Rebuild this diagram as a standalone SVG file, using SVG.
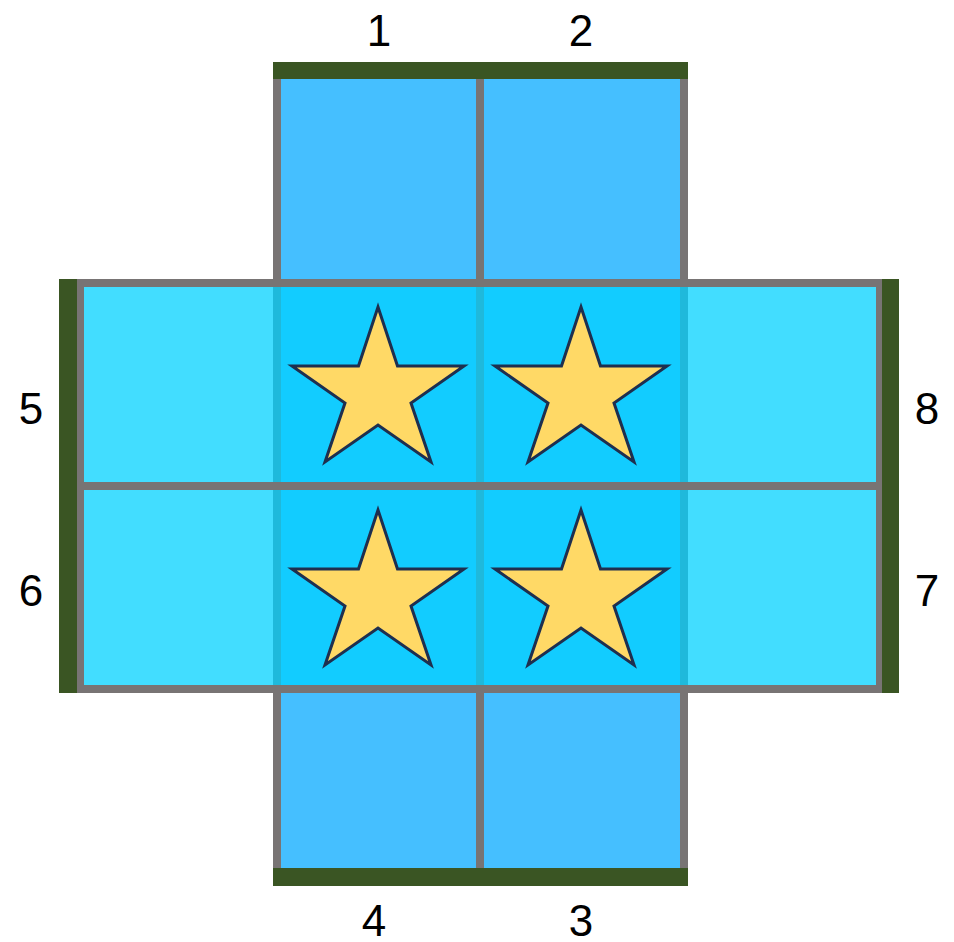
<svg xmlns="http://www.w3.org/2000/svg" width="954" height="942" viewBox="0 0 954 942">
<style>
.vc{fill:#45BFFF;stroke:#787474;stroke-width:8}
.hc{fill:#00D1FF;fill-opacity:0.74;stroke:#787474;stroke-width:8}
.bar{fill:#3A5523}
.star{fill:#FFD966;stroke:#1E2F4F;stroke-width:3;stroke-linejoin:miter}
.lbl{font-family:"Liberation Sans",Arial,sans-serif;font-size:44px;fill:#000;text-anchor:middle}
</style>
<defs>
<polygon id="st" points="0,-78 19.5,-19 86,-19 33,18 53,77 0,40 -53,77 -33,18 -86,-19 -19.5,-19"/>
</defs>
<g id="vertical-strip">
<rect class="vc" x="277" y="70" width="203" height="213"/>
<rect class="vc" x="480" y="70" width="204" height="213"/>
<rect class="vc" x="277" y="283" width="203" height="203"/>
<rect class="vc" x="480" y="283" width="204" height="203"/>
<rect class="vc" x="277" y="486" width="203" height="203"/>
<rect class="vc" x="480" y="486" width="204" height="203"/>
<rect class="vc" x="277" y="689" width="203" height="188"/>
<rect class="vc" x="480" y="689" width="204" height="188"/>
</g>
<g id="horizontal-band">
<rect class="hc" x="80" y="283" width="800" height="203"/>
<rect class="hc" x="80" y="486" width="800" height="203"/>
</g>
<g id="stars">
<use href="#st" class="star" x="378" y="385"/>
<use href="#st" class="star" x="581" y="385"/>
<use href="#st" class="star" x="378" y="588"/>
<use href="#st" class="star" x="581" y="588"/>
</g>
<g id="edges">
<rect class="bar" x="273" y="62" width="415" height="17"/>
<rect class="bar" x="273" y="868" width="415" height="18"/>
<rect class="bar" x="59" y="279" width="18" height="414"/>
<rect class="bar" x="882" y="279" width="17" height="414"/>
</g>
<g id="labels">
<text class="lbl" x="379" y="46">1</text>
<text class="lbl" x="581" y="46">2</text>
<text class="lbl" x="31" y="424">5</text>
<text class="lbl" x="31" y="606">6</text>
<text class="lbl" x="927" y="424">8</text>
<text class="lbl" x="927" y="606">7</text>
<text class="lbl" x="374" y="936">4</text>
<text class="lbl" x="581" y="936">3</text>
</g>
</svg>
